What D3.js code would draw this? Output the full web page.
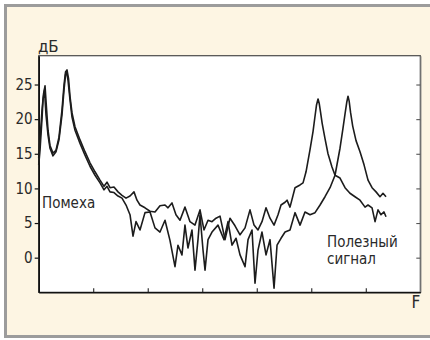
<!DOCTYPE html>
<html>
<head>
<meta charset="utf-8">
<script src="https://cdn.jsdelivr.net/npm/d3@7"></script>
<style>
  html, body { margin: 0; padding: 0; background: #fff; }
  svg { display: block; }
</style>
</head>
<body>
<svg id="chart" width="430" height="340"></svg>
<script>
// frequency (arbitrary units, 0..70) and level in dB for each trace
const freqA = [0, 0.24, 0.61, 0.88, 1.16, 1.43, 1.71, 2.07, 2.62, 3.17, 3.72, 4.27, 4.64, 4.92, 5.19, 5.47, 5.74, 6.11, 6.66, 7.58,
  8.49, 9.41, 10.33, 11.25, 11.98, 12.53, 13.08, 13.81, 14.55, 15.28, 16.02, 16.75, 17.48, 18.03, 18.58, 19.5, 20.42, 21.33, 22.25, 23.17,
  23.72, 24.45, 25.18, 25.92, 26.83, 27.75, 28.67, 29.59, 30.32, 31.06, 31.79, 32.53, 33.26, 34.18, 35.09, 36.01, 36.93, 37.85, 38.76, 39.5,
  40.23, 40.96, 41.7, 42.43, 43.17, 43.9, 44.45, 45.19, 45.55, 46.1, 47.02, 47.94, 48.49, 49.04, 49.77, 50.32, 50.65, 50.95, 51.24, 51.45, 51.7, 52.0,
  52.52, 53.07, 53.8, 54.36, 55.27, 56.19, 57.1, 58.02, 58.94, 59.86, 60.41, 61.15, 61.7, 62.24, 62.79, 63.34, 63.71]
const dbA = [14.4, 17.0, 21.3, 23.6, 24.8, 21.6, 18.4, 16.2, 15.1, 15.5, 17.4, 21.3, 24.9, 26.8, 27.1, 25.9, 23.3, 20.9, 18.9, 17.0,
  15.3, 13.7, 12.4, 11.2, 10.3, 10.9, 10.1, 10.2, 9.5, 9.0, 8.6, 8.9, 9.5, 8.3, 7.6, 7.2, 6.7, 6.6, 7.5, 7.6,
  7.2, 7.9, 6.2, 5.4, 7.3, 5.2, 4.7, 6.9, 4.0, 5.4, 5.2, 5.7, 6.0, 2.6, 5.7, 4.6, 3.3, 4.3, 6.9, 4.7,
  4.0, 5.2, 7.2, 5.7, 4.7, 6.2, 7.6, 8.0, 8.3, 7.3, 10.1, 10.5, 10.8, 12.4, 15.6, 18.2, 20.2, 22.0, 22.9, 22.3, 21.0, 19.4,
  17.2, 15.0, 13.1, 11.9, 11.5, 10.1, 9.3, 8.8, 8.3, 7.3, 7.6, 7.2, 5.2, 6.9, 6.2, 6.6, 5.9]

const freqB = [0, 0.24, 0.61, 0.79, 1.06, 1.34, 1.71, 2.07, 2.62, 3.17, 3.72, 4.27, 4.64, 4.92, 5.1, 5.38, 5.74, 6.11, 6.66, 7.58,
  8.49, 9.41, 10.33, 11.25, 11.98, 12.53, 13.08, 13.81, 14.55, 15.28, 16.02, 16.75, 17.3, 17.85, 18.58, 19.5, 20.42, 21.33, 22.25, 23.17,
  24.08, 25.0, 25.55, 26.28, 26.83, 27.38, 28.12, 28.67, 29.22, 29.59, 30.14, 30.51, 31.06, 31.79, 32.89, 33.99, 34.73, 35.46, 36.2, 36.93,
  37.85, 38.4, 39.13, 39.68, 40.23, 40.96, 41.7, 42.43, 43.17, 43.72, 44.45, 45.19, 46.1, 47.02, 47.94, 48.85, 49.77, 50.69, 51.61, 52.52,
  53.44, 54.36, 55.27, 55.8, 56.2, 56.5, 56.74, 56.95, 57.2, 57.6, 58.21, 58.94, 59.68, 60.41, 61.15, 61.88, 62.61, 63.16, 63.71]
const dbB = [13.4, 15.5, 20.1, 22.8, 24.2, 20.6, 17.7, 15.8, 14.7, 15.3, 17.0, 20.6, 24.2, 26.4, 26.9, 25.6, 22.8, 20.3, 18.4, 16.5,
  14.8, 13.2, 11.9, 10.8, 9.8, 10.3, 9.5, 9.4, 8.9, 8.6, 7.6, 6.2, 3.1, 5.2, 4.0, 6.5, 6.6, 4.3, 3.7, 5.4,
  2.5, -1.3, 1.8, 0.4, 4.7, 1.4, 4.0, -1.8, 2.6, 6.2, 1.1, -1.8, 2.6, 3.7, 4.7, 2.6, 5.2, 1.8, 2.8, 0.4,
  -1.3, 2.6, 4.0, -3.7, 1.1, 3.7, 0.4, 2.6, -4.4, 1.8, 2.8, 3.7, 4.0, 6.5, 4.7, 6.6, 6.2, 6.5, 7.6, 8.8,
  10.1, 11.9, 15.8, 18.6, 20.8, 22.4, 23.3, 22.6, 21.0, 19.0, 16.9, 15.3, 13.4, 11.2, 10.1, 9.5, 8.8, 9.3, 8.8]

const yTicks = [0, 5, 10, 15, 20, 25]
const xTicks = [10, 20, 30, 40, 50, 60]
const yUnit = 'дБ'
const xUnit = 'F'
const noiseLabel = ['Помеха']
const signalLabel = ['Полезный', 'сигнал']

const plotLeft = 38.7, plotRight = 420.3, plotTop = 55.7, plotBottom = 292.3
const tickFont = '"Liberation Sans Narrow", "DejaVu Sans Condensed", "Arial Narrow", sans-serif'

let svg = d3.select('#chart')

// outer panel
svg.append('rect')
  .attr('x', 5.5).attr('y', 5.5)
  .attr('width', 440).attr('height', 331)
  .attr('fill', '#fdf5e3')
  .attr('stroke', '#9c9c9c')
  .attr('stroke-width', 3)

let x = d3.scaleLinear().domain([0, 70]).range([plotLeft, plotRight])
let y = d3.scaleLinear().domain([-5, 29.16]).range([plotBottom, plotTop])

// plot box
svg.append('rect')
  .attr('x', plotLeft).attr('y', plotTop)
  .attr('width', plotRight - plotLeft).attr('height', plotBottom - plotTop)
  .attr('fill', '#fff')
  .attr('stroke', '#4a4a4a')
  .attr('stroke-width', 1.2)

// left axis, ticks outside
let yAxis = d3.axisLeft(y).tickValues(yTicks).tickSize(4).tickSizeOuter(0).tickPadding(2)
let axisY = svg.append('g').attr('transform', 'translate(' + plotLeft + ',0)').call(yAxis)
axisY.select('.domain').attr('stroke', '#111').attr('stroke-width', 1.6)
axisY.selectAll('.tick line').attr('stroke', '#111').attr('stroke-width', 1.2)
axisY.selectAll('.tick text')
  .attr('font-family', tickFont)
  .attr('font-size', '15px')
  .attr('fill', '#2a2a2a')

// right axis, ticks inside, no labels
let yAxis2 = d3.axisLeft(y).tickValues(yTicks).tickSize(4).tickSizeOuter(0).tickFormat('')
let axisY2 = svg.append('g').attr('transform', 'translate(' + plotRight + ',0)').call(yAxis2)
axisY2.select('.domain').attr('stroke', '#777').attr('stroke-width', 1.2)
axisY2.selectAll('.tick line').attr('stroke', '#555').attr('stroke-width', 1.1)

// bottom axis, ticks inside
let xAxis = d3.axisTop(x).tickValues(xTicks).tickSize(4).tickSizeOuter(0).tickFormat('')
let axisX = svg.append('g').attr('transform', 'translate(0,' + plotBottom + ')').call(xAxis)
axisX.select('.domain').attr('stroke', '#111').attr('stroke-width', 1.6)
axisX.selectAll('.tick line').attr('stroke', '#222').attr('stroke-width', 1.1)

let lineGen = d3.line()
  .x(function (d) { return x(d[0]) })
  .y(function (d) { return y(d[1]) })

let traces = [d3.zip(freqA, dbA), d3.zip(freqB, dbB)]
svg.append('g').selectAll('path')
  .data(traces)
  .enter()
  .append('path')
  .attr('d', lineGen)
  .attr('fill', 'none')
  .attr('stroke', '#1c1c1c')
  .attr('stroke-width', 1.6)
  .attr('stroke-linejoin', 'round')

svg.append('text')
  .attr('x', 38).attr('y', 52)
  .attr('font-family', '"DejaVu Sans", sans-serif')
  .attr('font-size', '15px')
  .attr('fill', '#2a2a2a')
  .text(yUnit)

svg.append('text')
  .attr('x', plotRight).attr('y', 308)
  .attr('text-anchor', 'end')
  .attr('font-family', tickFont)
  .attr('font-size', '17px')
  .attr('fill', '#2a2a2a')
  .text(xUnit)

svg.append('text')
  .attr('x', 42).attr('y', 208)
  .attr('font-family', tickFont)
  .attr('font-size', '15px')
  .attr('fill', '#2a2a2a')
  .text(noiseLabel[0])

svg.append('g').selectAll('text')
  .data(signalLabel)
  .enter()
  .append('text')
  .attr('x', 327)
  .attr('y', function (d, i) { return 247 + i * 17 })
  .attr('font-family', tickFont)
  .attr('font-size', '15px')
  .attr('fill', '#2a2a2a')
  .text(function (d) { return d })
</script>
</body>
</html>
